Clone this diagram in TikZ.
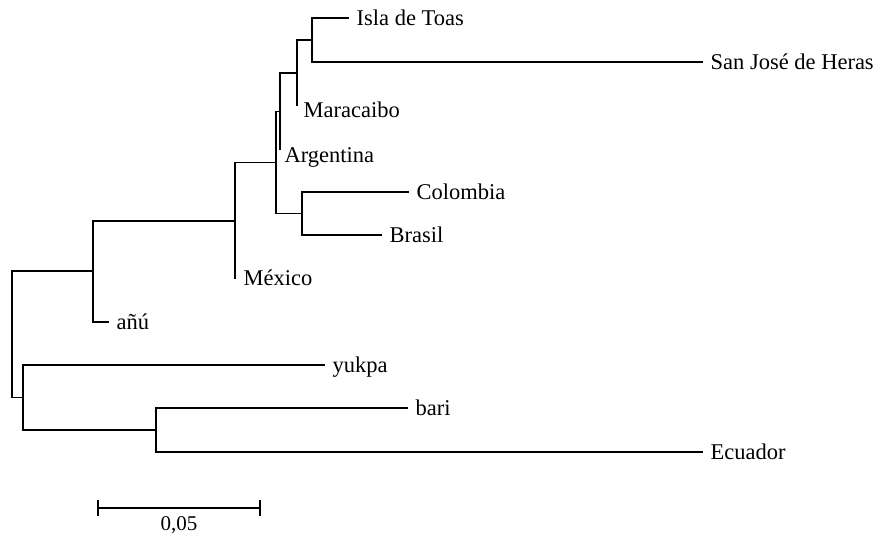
\documentclass[tikz,border=0pt]{standalone}
\usepackage{fontspec}
\setmainfont{Liberation Serif}

\begin{document}
\begin{tikzpicture}
        [x=1pt,y=-1pt,line width=1.3pt,
         t/.style={anchor=west,inner xsep=7pt,inner ysep=0pt,text height=15pt,text depth=0pt,
                   font=\fontsize{22.5}{26}\selectfont}]
        \useasboundingbox (0,0) rectangle (874,534);
        \coordinate (r) at (12,334.5);
        \coordinate (n1) at (93,271);
        \coordinate (n2) at (235,221);
        \coordinate (n3) at (276,162.5);
        \coordinate (n4) at (280,111.5);
        \coordinate (n5) at (297,73);
        \coordinate (n6) at (312,40);
        \coordinate (n7) at (302,213.5);
        \coordinate (f) at (23,397.5);
        \coordinate (g) at (156,430);
        \node[t](isla) at (349,18){Isla de Toas};
        \node[t](sanjose) at (703,62){San José de Heras};
        \coordinate (mara) at (297,106);
        \node[t,inner xsep=6pt](maral) at (297,110){Maracaibo};
        \coordinate (arg) at (280,150);
        \node[t,inner xsep=4pt](argl) at (280,155){Argentina};
        \node[t](colombia) at (409,192){Colombia};
        \node[t](brasil) at (382,235){Brasil};
        \coordinate (mex) at (235,279);
        \node[t,inner xsep=8pt](mexl) at (235,278){México};
        \node[t](anu) at (109,322){añú};
        \node[t](yukpa) at (325,365){yukpa};
        \node[t](bari) at (408,408){bari};
        \node[t](ecuador) at (703,452){Ecuador};
        \draw (r) |- (n1)  (r) |- (f)
              (n1) |- (n2)  (n1) |- (anu.west)
              (n2) |- (n3)  (n2) |- (mex)
              (n3) |- (n4)  (n3) |- (n7)
              (n4) |- (n5)  (n4) |- (arg)
              (n5) |- (n6)  (n5) |- (mara)
              (n6) |- (isla.west)  (n6) |- (sanjose.west)
              (n7) |- (colombia.west)  (n7) |- (brasil.west)
              (f) |- (yukpa.west)  (f) |- (g)
              (g) |- (bari.west)  (g) |- (ecuador.west);
        \coordinate (s1) at (98,508);
        \coordinate (s2) at (260,508);
        \draw (s1) -- (s2)
              (s1) ++(0,-8) -- ++(0,16)
              (s2) ++(0,-8) -- ++(0,16);
        \node[font=\fontsize{21}{24}\selectfont,inner sep=0pt,text height=13.5pt,text depth=0pt](scale) at (179,523.5){0,05};
    \end{tikzpicture}
\end{document}
